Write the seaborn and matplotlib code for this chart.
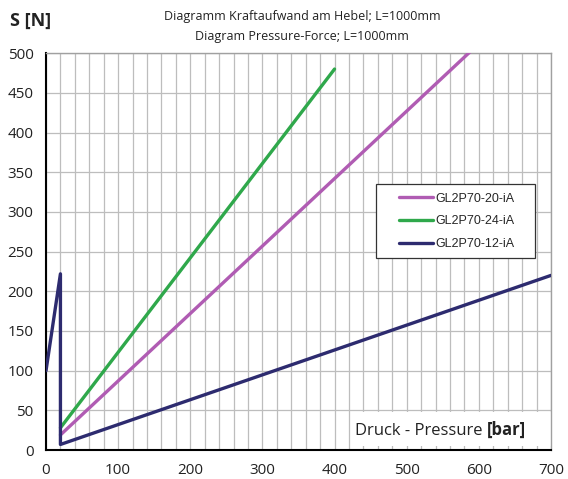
import matplotlib
matplotlib.use("Agg")
import matplotlib.pyplot as plt
from matplotlib.ticker import MultipleLocator
import seaborn as sns
import pandas as pd

# Series data: pressure [bar] -> force S [N]
series_names = ["GL2P70-20-iA", "GL2P70-24-iA", "GL2P70-12-iA"]
pressure_20 = [20, 600]
force_20 = [19, 512]
pressure_24 = [20, 400]
force_24 = [28, 480]
pressure_12 = [0, 20, 20, 700]
force_12 = [100, 222, 7, 220]

colors = {"GL2P70-20-iA": "#B05CB3", "GL2P70-24-iA": "#2FA84B", "GL2P70-12-iA": "#2D2B6F"}

x_ticks = [0, 100, 200, 300, 400, 500, 600, 700]
y_ticks = [0, 50, 100, 150, 200, 250, 300, 350, 400, 450, 500]

frames = []
for name, xs, ys in [("GL2P70-20-iA", pressure_20, force_20),
                     ("GL2P70-24-iA", pressure_24, force_24),
                     ("GL2P70-12-iA", pressure_12, force_12)]:
    frames.append(pd.DataFrame({"p": xs, "s": ys, "series": name}))
df = pd.concat(frames, ignore_index=True)

sns.set_style("white")
plt.rcParams["font.family"] = ["Open Sans", "DejaVu Sans"]

fig = plt.figure(figsize=(5.68, 4.79), dpi=100)
ax = fig.add_axes([0.081, 0.0605, 0.889, 0.8285])

sns.lineplot(data=df, x="p", y="s", hue="series", hue_order=series_names,
             palette=colors, sort=False, estimator=None, units="series",
             linewidth=2.4, ax=ax, legend=True, zorder=3)

ax.set_xlim(0, 700)
ax.set_ylim(0, 500)
ax.set_xticks(x_ticks)
ax.set_yticks(y_ticks)
ax.xaxis.set_minor_locator(MultipleLocator(20))
ax.grid(True, which="both", axis="x", color="#BDBDBD", linewidth=0.9, zorder=0)
ax.grid(True, which="major", axis="y", color="#BDBDBD", linewidth=0.9, zorder=0)
ax.set_axisbelow(True)

ax.tick_params(axis="both", which="major", direction="out", length=5, width=1.2,
               color="black", labelsize=11, labelcolor="#222222", pad=4)
ax.tick_params(axis="x", which="minor", direction="out", length=5, width=1.2, color="black")
ax.set_xlabel("")
ax.set_ylabel("")

for side in ["top", "right"]:
    ax.spines[side].set_color("#A0A0A0")
    ax.spines[side].set_linewidth(1.0)
for side in ["left", "bottom"]:
    ax.spines[side].set_color("black")
    ax.spines[side].set_linewidth(1.5)

# Legend with its own frame drawn as a patch
ax.add_patch(plt.Rectangle((0.6535, 0.4836), 0.3145, 0.1864, transform=ax.transAxes,
                           facecolor="white", edgecolor="#333333", linewidth=0.9,
                           zorder=4))
leg = ax.legend(loc="center left", bbox_to_anchor=(0.700, 0.576), frameon=False,
                prop={"family": "Liberation Sans", "size": 9},
                handlelength=2.65, handletextpad=0.2, labelspacing=0.85,
                borderpad=0.0, borderaxespad=0.0)
leg.set_zorder(5)
for h in leg.get_lines():
    h.set_linewidth(2.4)

# Axis caption inside the plot, on a white panel
ax.add_patch(plt.Rectangle((0.6035, 0.01), 0.3965, 0.085, transform=ax.transAxes,
                           facecolor="white", edgecolor="none", zorder=2))
t1 = ax.text(0.612, 0.028, "Druck - Pressure ", transform=ax.transAxes, fontsize=12,
             color="#222222", va="bottom", ha="left", zorder=4)
ax.annotate("[bar]", xy=(1, 0), xycoords=t1, fontsize=12, fontweight="bold",
            color="#222222", va="bottom", ha="left", zorder=4)

fig.text(0.018, 0.957, "S [N]", fontsize=13, fontweight="bold", color="#222222",
         va="center", ha="left")
fig.text(0.532, 0.966, "Diagramm Kraftaufwand am Hebel; L=1000mm", fontsize=9,
         color="#222222", ha="center", va="center")
fig.text(0.532, 0.924, "Diagram Pressure-Force; L=1000mm", fontsize=9,
         color="#222222", ha="center", va="center")

fig.savefig("out.png", dpi=100, facecolor="white")
